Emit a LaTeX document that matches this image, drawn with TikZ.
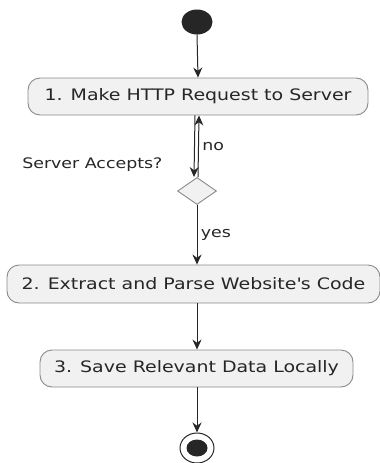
\documentclass[tikz,border=0pt]{standalone}
\usepackage{fontspec}
\setmainfont{DejaVu Sans}[FakeStretch=1.2]
\usetikzlibrary{arrows.meta,shapes.geometric}
\definecolor{boxfill}{HTML}{F1F1F1}
\definecolor{boxline}{HTML}{8A8A8A}
\tikzset{
  act/.style={draw=boxline, fill=boxfill, rounded corners=12pt, line width=0.9pt,
    minimum height=37pt, inner xsep=8pt, font=\fontsize{15.8}{18}\selectfont, text=black!85},
  flow/.style={draw=black!85, line width=1pt, -{Stealth[length=10pt,width=9pt]}},
  lbl/.style={font=\fontsize{14.5}{16}\selectfont, text=black!85},
}
\begin{document}
\begin{tikzpicture}[x=1pt,y=-1pt]
\useasboundingbox (0,0) rectangle (380,463);
\fill[black!85] (197,22) ellipse [x radius=15.5, y radius=12.5];
\coordinate (start) at (197,34.5);
\node[act, minimum width=340pt] (a1) at (198,96.5) {1. Make HTTP Request to Server};
\node[diamond, draw=boxline, fill=boxfill, line width=0.9pt, minimum width=39pt, minimum height=27pt, inner sep=0pt, aspect=1.45] (d) at (197,191) {};
\node[act, minimum width=373pt, minimum height=38pt] (a2) at (193.5,284) {2. Extract and Parse Website\textquotesingle s Code};
\node[act, minimum width=313pt] (a3) at (196.5,368.5) {3. Save Relevant Data Locally};
\node[draw=black!85, line width=1pt, ellipse, minimum width=34pt, minimum height=30pt, inner sep=0pt] (end) at (197,448) {};
\fill[black!85] (end.center) ellipse [x radius=10.5, y radius=8.5];
\node[lbl, anchor=east] (q) at (166,165) {Server Accepts?};
\draw[flow] (start) -- (a1.south |- a1.north);
\draw[flow] ([xshift=-3pt]a1.south) -- ([xshift=-3pt]d.north) ;
\draw[flow] ([xshift=1pt]d.north) -- node[lbl, right, pos=0.5] {no} ([xshift=1pt]a1.south);
\draw[flow] (d.south) -- node[lbl, right, pos=0.5] {yes} (d.south |- a2.north);
\draw[flow] (a2.south -| d.south) -- (d.south |- a3.north);
\draw[flow] (a3.south -| d.south) -- (end.north);
\end{tikzpicture}
\end{document}
